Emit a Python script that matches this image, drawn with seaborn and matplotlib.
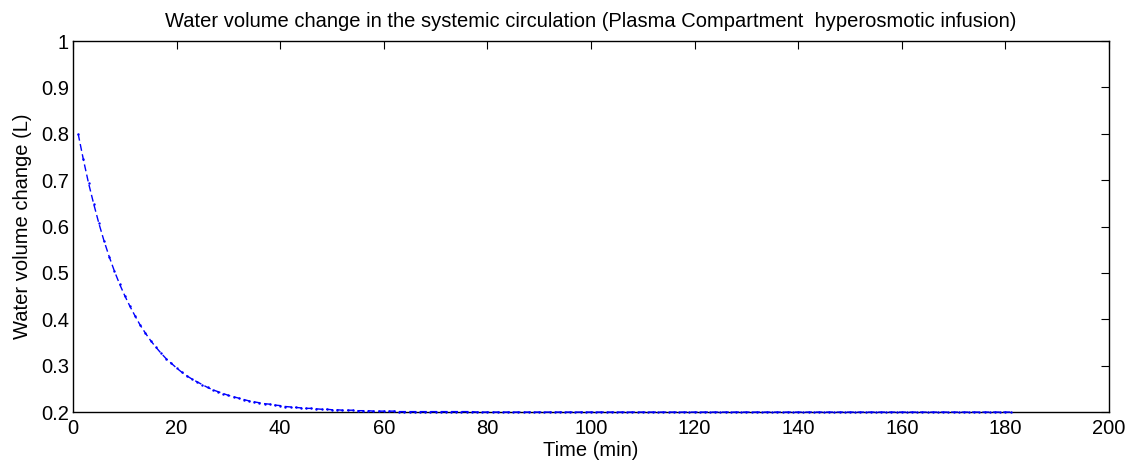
import matplotlib
matplotlib.use("Agg")
import matplotlib.pyplot as plt
import seaborn as sns
import pandas as pd

time_min = list(range(1, 182))
volume_change = [
    0.800, 0.745, 0.694, 0.649, 0.607, 0.569, 0.535, 0.504, 0.476, 0.451,
    0.428, 0.407, 0.387, 0.370, 0.354, 0.340, 0.327, 0.315, 0.305, 0.295,
    0.286, 0.278, 0.271, 0.265, 0.259, 0.253, 0.248, 0.244, 0.240, 0.236,
    0.233, 0.230, 0.227, 0.224, 0.222, 0.220, 0.218, 0.217, 0.215, 0.214,
    0.212, 0.211, 0.210, 0.209, 0.208, 0.208, 0.207, 0.206, 0.206, 0.205,
    0.205, 0.204, 0.204, 0.204, 0.203, 0.203, 0.203, 0.202, 0.202, 0.202,
    0.202, 0.202, 0.201, 0.201, 0.201, 0.201, 0.201, 0.201, 0.201, 0.201,
    0.201, 0.201, 0.201, 0.201, 0.201, 0.201, 0.201, 0.200, 0.200, 0.200,
    0.200, 0.200, 0.200, 0.200, 0.200, 0.200, 0.200, 0.200, 0.200, 0.200,
    0.200, 0.200, 0.200, 0.200, 0.200, 0.200, 0.200, 0.200, 0.200, 0.200,
    0.200, 0.200, 0.200, 0.200, 0.200, 0.200, 0.200, 0.200, 0.200, 0.200,
    0.200, 0.200, 0.200, 0.200, 0.200, 0.200, 0.200, 0.200, 0.200, 0.200,
    0.200, 0.200, 0.200, 0.200, 0.200, 0.200, 0.200, 0.200, 0.200, 0.200,
    0.200, 0.200, 0.200, 0.200, 0.200, 0.200, 0.200, 0.200, 0.200, 0.200,
    0.200, 0.200, 0.200, 0.200, 0.200, 0.200, 0.200, 0.200, 0.200, 0.200,
    0.200, 0.200, 0.200, 0.200, 0.200, 0.200, 0.200, 0.200, 0.200, 0.200,
    0.200, 0.200, 0.200, 0.200, 0.200, 0.200, 0.200, 0.200, 0.200, 0.200,
    0.200, 0.200, 0.200, 0.200, 0.200, 0.200, 0.200, 0.200, 0.200, 0.200,
    0.200,
]
x_ticks = [0, 20, 40, 60, 80, 100, 120, 140, 160, 180, 200]
y_ticks = [0.2, 0.3, 0.4, 0.5, 0.6, 0.7, 0.8, 0.9, 1.0]
y_tick_labels = ["0.2", "0.3", "0.4", "0.5", "0.6", "0.7", "0.8", "0.9", "1"]

title = "Water volume change in the systemic circulation (Plasma Compartment  hyperosmotic infusion)"
xlabel = "Time (min)"
ylabel = "Water volume change (L)"

sns.set_style("white")
plt.rcParams["font.family"] = ["Liberation Sans", "DejaVu Sans"]
plt.rcParams["xtick.direction"] = "in"
plt.rcParams["ytick.direction"] = "in"
plt.rcParams["text.color"] = "black"
plt.rcParams["axes.labelcolor"] = "black"

FS = 14.5

df = pd.DataFrame({"t": time_min, "v": volume_change})

fig = plt.figure(figsize=(11.33, 4.63), dpi=100)
ax = fig.add_axes([0.0644, 0.110, 0.9144, 0.8013])

sns.lineplot(data=df, x="t", y="v", ax=ax, color="#0000FF",
             linewidth=1.0, marker=".", markersize=3.5, markeredgewidth=0,
             markerfacecolor="#0000FF")
line = ax.lines[0]
line.set_linestyle((0, (5, 2.5)))
line.set_zorder(5)
line.set_clip_on(False)

ax.set_xlim(0, 200)
ax.set_ylim(0.2, 1.0)
ax.set_xticks(x_ticks)
ax.set_xticklabels([str(v) for v in x_ticks], fontsize=FS)
ax.set_yticks(y_ticks)
ax.set_yticklabels(y_tick_labels, fontsize=FS)
ax.tick_params(top=True, right=True, length=6, width=0.8, color="black",
               labelcolor="black")
ax.tick_params(axis="x", pad=5)
ax.tick_params(axis="y", pad=3)
for s in ax.spines.values():
    s.set_visible(True)
    s.set_color("black")
    s.set_linewidth(1.0)

ax.set_title(title, fontsize=FS, pad=10)
ax.set_xlabel(xlabel, fontsize=FS, labelpad=2)
ax.set_ylabel(ylabel, fontsize=FS, labelpad=6)

fig.savefig("out.png", dpi=100, facecolor="white")
